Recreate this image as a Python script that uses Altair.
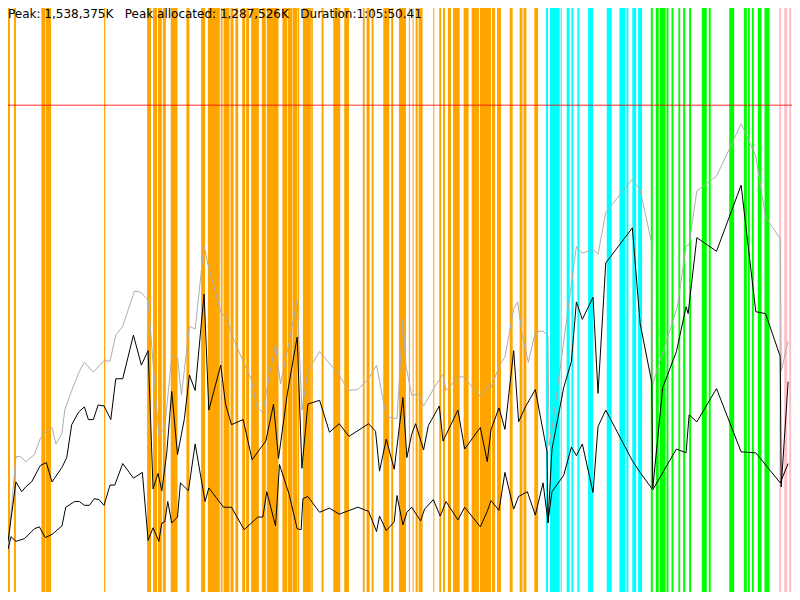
import altair as alt
import pandas as pd

# ---- values (time in seconds, memory in MB = 1000 K) ----
DURATION_S = 3950.41
Y_MAX_MB = 1846.0
PEAK_K = 1538375
PEAK_ALLOC_K = 1287526

heap_t = [0, 40, 64, 89, 133, 163, 193, 222, 242, 272, 286, 321, 360, 385, 430, 484, 514, 543, 578, 637,
          667, 706, 760, 790, 825, 854, 874, 914, 943, 988, 1007, 1076, 1096, 1136, 1185, 1225, 1254, 1284, 1318, 1348,
          1373, 1417, 1457, 1481, 1511, 1570, 1669, 1714, 1763, 1817, 1857, 1906, 1960, 1990, 2005, 2034, 2069, 2094, 2148, 2192,
          2207, 2271, 2296, 2380, 2420, 2434, 2479, 2504, 2548, 2568, 2592, 2622, 2657, 2696, 2721, 2726, 2741, 2864, 2894, 2948,
          2973, 3012, 3146, 3185, 3244, 3249, 3308, 3373, 3417, 3432, 3471, 3570, 3694, 3768, 3817, 3891, 3896, 3931]
heap_mb = [138, 428, 428, 412, 434, 486, 508, 520, 468, 502, 575, 637, 698, 726, 695, 732, 729, 812, 840, 951,
           948, 923, 495, 520, 745, 742, 622, 840, 831, 1095, 1037, 877, 874, 800, 729, 674, 585, 566, 689, 782,
           658, 791, 923, 575, 698, 760, 686, 637, 640, 674, 717, 554, 548, 862, 717, 622, 625, 588, 646, 689,
           637, 680, 680, 618, 652, 646, 720, 742, 895, 917, 809, 726, 822, 825, 809, 462, 514, 1092, 1071, 1083,
           1068, 1200, 1305, 1271, 1102, 658, 775, 902, 1095, 1098, 1268, 1314, 1480, 1378, 1185, 1117, 698, 794]

alloc_t = [0, 40, 69, 89, 119, 163, 193, 222, 272, 296, 321, 356, 385, 405, 430, 454, 484, 518, 543, 578,
           632, 672, 706, 731, 756, 775, 800, 825, 854, 889, 914, 943, 988, 1012, 1072, 1096, 1126, 1185, 1230, 1269,
           1299, 1338, 1363, 1407, 1457, 1481, 1511, 1570, 1620, 1669, 1718, 1817, 1852, 1872, 1906, 1946, 1990, 2010, 2034, 2054,
           2094, 2118, 2173, 2192, 2267, 2301, 2380, 2415, 2434, 2474, 2504, 2548, 2573, 2607, 2657, 2716, 2721, 2741, 2800, 2839,
           2864, 2894, 2948, 2973, 3012, 3146, 3185, 3244, 3249, 3299, 3368, 3417, 3427, 3471, 3570, 3694, 3768, 3817, 3891, 3896,
           3931]
alloc_mb = [160, 348, 317, 332, 348, 400, 409, 348, 394, 425, 529, 569, 585, 545, 545, 591, 588, 545, 674, 674,
            812, 717, 763, 326, 375, 320, 440, 634, 434, 548, 686, 637, 942, 575, 717, 594, 529, 545, 418, 452,
            477, 594, 422, 625, 806, 391, 594, 606, 505, 532, 492, 532, 508, 382, 483, 388, 615, 425, 498, 532,
            449, 526, 588, 477, 575, 452, 520, 412, 514, 582, 514, 763, 538, 585, 640, 443, 218, 452, 646, 729,
            917, 862, 932, 628, 1040, 1151, 849, 662, 329, 646, 760, 902, 880, 1120, 1077, 1286, 886, 880, 745, 332,
            665]

live_t = [0, 15, 25, 40, 84, 133, 158, 188, 222, 272, 291, 336, 360, 385, 410, 435, 459, 484, 514, 538,
          578, 632, 677, 706, 731, 760, 775, 790, 805, 825, 854, 869, 909, 943, 993, 1012, 1086, 1126, 1190, 1259,
          1284, 1304, 1348, 1368, 1417, 1457, 1477, 1486, 1511, 1570, 1620, 1669, 1763, 1817, 1857, 1872, 1906, 1946, 1960, 1990,
          2010, 2034, 2079, 2099, 2143, 2178, 2207, 2267, 2301, 2380, 2415, 2434, 2474, 2504, 2548, 2573, 2617, 2657, 2696, 2721,
          2741, 2800, 2839, 2864, 2894, 2948, 2973, 3012, 3146, 3185, 3249, 3368, 3417, 3432, 3471, 3570, 3694, 3768, 3891, 3931]
live_mb = [135, 175, 169, 160, 169, 200, 206, 172, 182, 209, 268, 286, 286, 274, 274, 295, 292, 274, 338, 338,
           406, 360, 378, 163, 203, 160, 218, 222, 286, 218, 237, 345, 320, 468, 286, 329, 268, 268, 197, 237,
           237, 317, 209, 403, 308, 200, 197, 295, 302, 252, 265, 246, 268, 255, 191, 240, 194, 222, 305, 212,
           252, 268, 225, 262, 292, 240, 286, 228, 268, 206, 255, 289, 258, 378, 262, 302, 317, 243, 345, 222,
           317, 369, 458, 431, 468, 314, 523, 575, 415, 378, 323, 452, 440, 560, 538, 643, 443, 440, 345, 406]

# event bands (start / end in seconds)
orange_start = [0, 30, 168, 191, 484, 701, 731, 756, 780, 820, 899, 973, 1007, 1072, 1086, 1121, 1146, 1180, 1200, 1225,
                1279, 1304, 1383, 1410, 1434, 1459, 1486, 1528, 1580, 1639, 1694, 1788, 1807, 1832, 1891, 1931, 1970, 2020, 2039, 2054,
                2069, 2143, 2173, 2192, 2217, 2242, 2296, 2336, 2378, 2439, 2464, 2528, 2578, 2597, 2652]
orange_end = [10, 40, 188, 217, 490, 721, 751, 775, 795, 854, 914, 993, 1067, 1081, 1116, 1136, 1160, 1195, 1215, 1264,
              1299, 1363, 1407, 1432, 1457, 1467, 1526, 1536, 1590, 1674, 1718, 1797, 1822, 1842, 1921, 1941, 2005, 2025, 2044, 2064,
              2089, 2148, 2183, 2202, 2232, 2276, 2321, 2373, 2434, 2454, 2484, 2543, 2592, 2612, 2671]
cyan_start = [2711, 2731, 2785, 2815, 2839, 2869, 2923, 3017, 3081, 3116, 3146, 3175]
cyan_end = [2721, 2780, 2790, 2830, 2849, 2879, 2948, 3042, 3111, 3126, 3165, 3195]
green_start = [3239, 3264, 3284, 3318, 3343, 3378, 3402, 3432, 3496, 3531, 3634, 3708, 3728, 3748, 3778, 3812]
green_end = [3249, 3279, 3313, 3328, 3353, 3387, 3412, 3442, 3521, 3541, 3659, 3723, 3738, 3758, 3797, 3837]
pink_start = [3886, 3911, 3936]
pink_end = [3896, 3926, 3946]

band_kinds = ["orange", "cyan", "green", "pink"]
band_colors = ["#FFA500", "#00FFFF", "#00FF00", "#FFC0CB"]

# ---- build tables ----
rows = []
for kind, s_list, e_list in [("orange", orange_start, orange_end), ("cyan", cyan_start, cyan_end),
                             ("green", green_start, green_end), ("pink", pink_start, pink_end)]:
    for s, e in zip(s_list, e_list):
        rows.append({"start": s, "end": e, "kind": kind})
bands_df = pd.DataFrame(rows)
heap_df = pd.DataFrame({"t": heap_t, "mb": heap_mb})
alloc_df = pd.DataFrame({"t": alloc_t, "mb": alloc_mb})
live_df = pd.DataFrame({"t": live_t, "mb": live_mb})
peak_df = pd.DataFrame({"mb": [PEAK_K / 1000.0]})

label = (f"Peak: {PEAK_K:,}K\u00a0\u00a0\u00a0Peak allocated: {PEAK_ALLOC_K:,}K"
         f"\u00a0\u00a0\u00a0Duration:1:05:50.41")
label_df = pd.DataFrame({"label": [label]})

x_scale = alt.Scale(domain=[0, DURATION_S], nice=False, zero=False)
y_scale = alt.Scale(domain=[0, Y_MAX_MB], nice=False)

bands = alt.Chart(bands_df).mark_rect().encode(
    x=alt.X("start:Q", scale=x_scale, axis=None),
    x2="end:Q",
    color=alt.Color("kind:N", scale=alt.Scale(domain=band_kinds, range=band_colors), legend=None),
)

peak = alt.Chart(peak_df).mark_rule(color="#FF0000", opacity=0.55, strokeWidth=1.5).encode(
    y=alt.Y("mb:Q", scale=y_scale, axis=None)
)

def series(df, color):
    return alt.Chart(df).mark_line(color=color, strokeWidth=1).encode(
        x=alt.X("t:Q", scale=x_scale, axis=None),
        y=alt.Y("mb:Q", scale=y_scale, axis=None),
    )

heap_line = series(heap_df, "#ADADAD")
alloc_line = series(alloc_df, "#000000")
live_line = series(live_df, "#000000")

text = alt.Chart(label_df).mark_text(
    align="left", baseline="alphabetic", font="DejaVu Sans", fontSize=12, color="#000000"
).encode(x=alt.value(0), y=alt.value(10), text="label:N")

chart = alt.layer(bands, peak, heap_line, live_line, alloc_line, text).properties(
    width=784, height=584, padding=0, autosize="none", background="white"
).configure_view(stroke=None)

chart.save("out.html", embed_options={"renderer": "svg", "actions": False})
